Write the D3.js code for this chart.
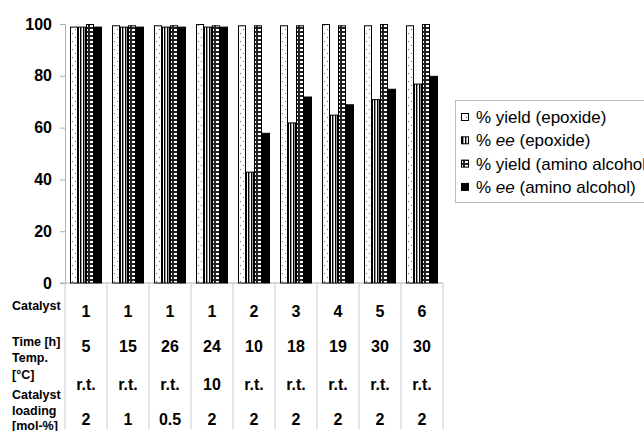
<!DOCTYPE html>
<html><head><meta charset="utf-8">
<script src="https://cdn.jsdelivr.net/npm/d3@7"></script>
<style>
html,body{margin:0;padding:0;background:#fff;}
svg{display:block;font-family:Arial,"Liberation Sans",sans-serif;}
</style></head>
<body>
<svg id="chart" width="644" height="431"></svg>
<script>
// ---- data ----
const catalyst = ["1","1","1","1","2","3","4","5","6"];
const timeH    = ["5","15","26","24","10","18","19","30","30"];
const tempC    = ["r.t.","r.t.","r.t.","10","r.t.","r.t.","r.t.","r.t.","r.t."];
const loading  = ["2","1","0.5","2","2","2","2","2","2"];
const yieldEpoxide = [99,99.5,99.5,100,99.5,99.5,100,99.5,99.5];
const eeEpoxide    = [99,99,99,99,43,62,65,71,77];
const yieldAmino   = [100,99.5,99.5,99.5,99.5,99.5,99.5,100,100];
const eeAmino      = [99,99,99,99,58,72,69,75,80];
const yTicks = [0,20,40,60,80,100];
const seriesKeys = ["yEp","eeEp","yAm","eeAm"];
const seriesValues = [yieldEpoxide, eeEpoxide, yieldAmino, eeAmino];

const svg = d3.select("#chart");
const defs = svg.append("defs");

// dotted pattern
const pDot = defs.append("pattern").attr("id","p-yEp").attr("patternUnits","userSpaceOnUse").attr("width",6).attr("height",8);
pDot.append("rect").attr("width",6).attr("height",8).attr("fill","#fff");
pDot.append("rect").attr("x",1).attr("y",1).attr("width",1).attr("height",1).attr("fill","#666");
pDot.append("rect").attr("x",4).attr("y",5).attr("width",1).attr("height",1).attr("fill","#666");
// vertical stripes
const pStr = defs.append("pattern").attr("id","p-eeEp").attr("patternUnits","userSpaceOnUse").attr("width",3).attr("height",4);
pStr.append("rect").attr("width",3).attr("height",4).attr("fill","#fff");
pStr.append("rect").attr("x",0).attr("width",1.4).attr("height",4).attr("fill","#000");
// brick
const pBr = defs.append("pattern").attr("id","p-yAm").attr("patternUnits","userSpaceOnUse").attr("width",8).attr("height",4);
pBr.append("rect").attr("width",8).attr("height",4).attr("fill","#222");
pBr.append("rect").attr("x",1).attr("y",1).attr("width",6).attr("height",2).attr("fill","#fff");
const fills = {yEp:"url(#p-yEp)", eeEp:"url(#p-eeEp)", yAm:"url(#p-yAm)", eeAm:"#000"};

// ---- scales ----
const x = d3.scaleBand().domain(d3.range(catalyst.length)).range([65,443]).padding(0);
const xs = d3.scaleBand().domain(seriesKeys).range([5, x.bandwidth()-5]).padding(0);
const y = d3.scaleLinear().domain([0,100]).range([283,24]);

// ---- axes ----
const yAxis = svg.append("g").attr("transform","translate(65,0)")
  .call(d3.axisLeft(y).tickValues(yTicks).tickSize(5).tickPadding(8));
yAxis.select(".domain").attr("stroke","#b0b0b0");
yAxis.selectAll(".tick line").attr("stroke","#b0b0b0");
yAxis.selectAll(".tick text").attr("fill","#000").attr("font-size",16).attr("font-weight","bold")
  .attr("font-family",'Arial,"Liberation Sans",sans-serif');

// x baseline
svg.append("line").attr("x1",60).attr("x2",443).attr("y1",y(0)).attr("y2",y(0)).attr("stroke","#b0b0b0");

// table vertical lines
const bounds = d3.range(catalyst.length+1).map(i => i < catalyst.length ? x(i) : x(i-1)+x.bandwidth());
svg.selectAll("line.vb").data(bounds).enter().append("line").attr("class","vb")
  .attr("x1",d=>d).attr("x2",d=>d).attr("y1",y(0)).attr("y2",429).attr("stroke","#c8c8c8");

// ---- bars ----
const groups = svg.selectAll("g.cat").data(catalyst).enter().append("g").attr("class","cat")
  .attr("transform",(d,i)=>`translate(${x(i)},0)`);
seriesKeys.forEach((k,si)=>{
  groups.append("rect")
    .attr("x", xs(k)+0.5)
    .attr("y", (d,i)=>y(seriesValues[si][i])+0.5)
    .attr("width", xs.bandwidth()-1)
    .attr("height", (d,i)=>y(0)-y(seriesValues[si][i])-0.5)
    .attr("fill", fills[k]).attr("stroke","#000").attr("stroke-width",1);
});

// ---- table text ----
const rows = [
  {vals:catalyst, y:311, labels:[{t:"Catalyst",y:306}]},
  {vals:timeH, y:346, labels:[{t:"Time [h]",y:342}]},
  {vals:tempC, y:384, labels:[{t:"Temp.",y:358},{t:"[°C]",y:375}]},
  {vals:loading, y:419, labels:[{t:"Catalyst",y:395},{t:"loading",y:411},{t:"[mol-%]",y:426}]}
];
rows.forEach(r=>{
  r.labels.forEach(l=>{
    svg.append("text").attr("x",12).attr("y",l.y).attr("dy","0.35em")
      .attr("font-size",12.5).attr("font-weight","bold").text(l.t);
  });
  svg.selectAll(null).data(r.vals).enter().append("text")
    .attr("x",(d,i)=>x(i)+x.bandwidth()/2).attr("y",r.y).attr("dy","0.35em")
    .attr("text-anchor","middle").attr("font-size",16).attr("font-weight","bold").text(d=>d);
});

// ---- legend ----
const legend = svg.append("g");
legend.append("rect").attr("x",455.5).attr("y",100.5).attr("width",200).attr("height",102)
  .attr("fill","#fff").attr("stroke","#bbb");
const legendItems = [
  {k:"yEp", parts:[["% yield (epoxide)",false]]},
  {k:"eeEp", parts:[["% ",false],["ee",true],[" (epoxide)",false]]},
  {k:"yAm", parts:[["% yield (amino alcohol)",false]]},
  {k:"eeAm", parts:[["% ",false],["ee",true],[" (amino alcohol)",false]]}
];
legendItems.forEach((it,i)=>{
  const ly = 117 + i*23.3;
  legend.append("rect").attr("x",461.5).attr("y",ly-3.5).attr("width",7).attr("height",7)
    .attr("fill",fills[it.k]).attr("stroke","#000");
  const t = legend.append("text").attr("x",476).attr("y",ly).attr("dy","0.35em").attr("font-size",17);
  it.parts.forEach(p=>{ t.append("tspan").attr("font-style",p[1]?"italic":"normal").text(p[0]); });
});
</script>
</body></html>
